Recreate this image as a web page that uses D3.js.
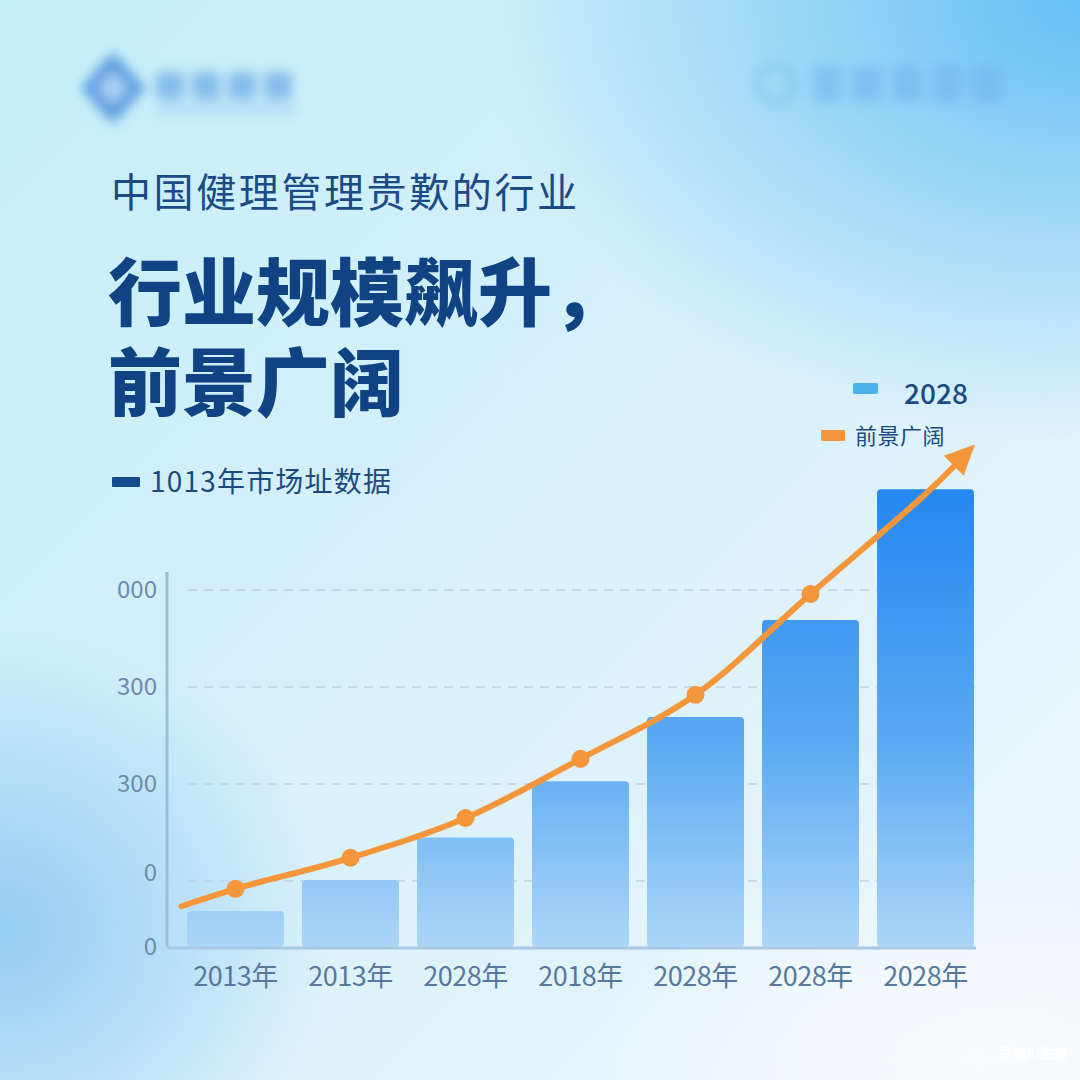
<!DOCTYPE html>
<html><head><meta charset="utf-8">
<script src="https://cdn.jsdelivr.net/npm/d3@7/dist/d3.min.js"></script>
<style>
html,body{margin:0;padding:0;background:#e4f4fb;}
svg{display:block;font-family:"Noto Sans CJK SC","Noto Sans",sans-serif;}
</style></head>
<body>
<svg id="c" width="1080" height="1080"></svg>
<script>
// ---- data ----
const categories = ["2013年","2013年","2028年","2018年","2028年","2028年","2028年"];
const barValues = [37, 69, 113, 171, 237, 337, 472];
const lineValues = [60, 92, 133, 194, 260, 364];          // marker points (first 6 years)
const lineTrendStart = 42;                                  // line start (left of first year)
const lineTrendPast = [467, 518];                           // through last year, arrow tip
const yTickValues = [0, 68, 168, 268, 368];
const yTickLabels = ["0", "0", "300", "300", "000"];
const titleSmall = "中国健理管理贵歎的行业";
const titleBig = ["行业规模飙升，", "前景广阔"];
const noteLabel = "1013年市场址数据";
const legendBar = "2028";
const legendLine = "前景广阔";
const watermark = "豆包AI生成";

const svg = d3.select("#c");
const defs = svg.append("defs");

// ---- background ----
const bg = defs.append("linearGradient").attr("id","bg").attr("x1",0).attr("y1",0).attr("x2",1).attr("y2",1);
bg.append("stop").attr("offset","0%").attr("stop-color","#c4eef8");
bg.append("stop").attr("offset","45%").attr("stop-color","#d6f0fa");
bg.append("stop").attr("offset","100%").attr("stop-color","#eef6fc");
svg.append("rect").attr("width",1080).attr("height",1080).attr("fill","url(#bg)");

function radial(id, color, op){
  const g = defs.append("radialGradient").attr("id",id);
  g.append("stop").attr("offset","0%").attr("stop-color",color).attr("stop-opacity",op);
  g.append("stop").attr("offset","100%").attr("stop-color",color).attr("stop-opacity",0);
}
radial("rTR","#5fbdf5",0.95);
radial("rBL","#8cc8f4",0.9);
radial("rBR","#ffffff",0.7);
svg.append("ellipse").attr("cx",1080).attr("cy",0).attr("rx",600).attr("ry",440).attr("fill","url(#rTR)");
svg.append("ellipse").attr("cx",0).attr("cy",930).attr("rx",330).attr("ry",300).attr("fill","url(#rBL)");
svg.append("ellipse").attr("cx",980).attr("cy",1060).attr("rx",400).attr("ry",200).attr("fill","url(#rBR)");

// blurred logos
const blur = defs.append("filter").attr("id","blur").attr("x","-50%").attr("y","-50%").attr("width","200%").attr("height","200%");
blur.append("feGaussianBlur").attr("stdDeviation",6);
const logo = svg.append("g").attr("filter","url(#blur)");
logo.append("path").attr("d","M113,52 L146,88 L113,124 L80,88 Z").attr("fill","#4a90dd").attr("opacity",0.85);
logo.append("path").attr("d","M113,72 L128,88 L113,104 L98,88 Z").attr("fill","#a9d2f3");
[0,1,2,3].forEach(i=>logo.append("rect").attr("x",156+i*36).attr("y",72).attr("width",28).attr("height",28).attr("fill","#6aa7e6").attr("opacity",0.7));
logo.append("rect").attr("x",156).attr("y",106).attr("width",140).attr("height",8).attr("fill","#8fc0ee").attr("opacity",0.5);
const logo2 = svg.append("g").attr("filter","url(#blur)").attr("opacity",0.55);
logo2.append("circle").attr("cx",776).attr("cy",84).attr("r",18).attr("fill","none").attr("stroke","#7dbcf0").attr("stroke-width",8);
[0,1,2,3,4].forEach(i=>logo2.append("rect").attr("x",812+i*40).attr("y",66).attr("width",30).attr("height",36).attr("fill","#6fb4ee"));

// ---- titles ----
svg.append("text").attr("x",111).attr("y",207).attr("font-size",40).attr("letter-spacing",2.6)
  .attr("fill","#1b4a86").text(titleSmall);
titleBig.forEach((t,i)=>{
  svg.append("text").attr("x",108).attr("y",320 + i*90).attr("font-size",74).attr("font-weight",900)
    .attr("font-family","'Liberation Sans','Noto Sans CJK SC',sans-serif")
    .attr("fill","#0f4384").text(t);
});

svg.append("rect").attr("x",112).attr("y",477).attr("width",28).attr("height",10).attr("rx",1).attr("fill","#134b8c");
svg.append("text").attr("x",150).attr("y",492).attr("font-size",28).attr("letter-spacing",1.2).attr("fill","#1c4a7e").text(noteLabel);

// legend
svg.append("rect").attr("x",853).attr("y",383).attr("width",25).attr("height",11).attr("rx",2).attr("fill","#4cb3ea");
svg.append("text").attr("x",904).attr("y",404).attr("font-size",28).attr("font-weight",500).attr("fill","#1a4a82").text(legendBar);
svg.append("rect").attr("x",821).attr("y",430).attr("width",24).attr("height",11).attr("rx",1).attr("fill","#f5963a");
svg.append("text").attr("x",855).attr("y",444).attr("font-size",22).attr("letter-spacing",0.5).attr("fill","#1a4a82").text(legendLine);

// ---- scales ----
const x = d3.scaleBand().domain(d3.range(categories.length)).range([187, 974]).paddingInner(0.157).paddingOuter(0);
const y = d3.scaleLinear().domain([0, 500]).range([947, 462]);
const bw = x.bandwidth();
const xc = d3.scaleLinear().domain([0, categories.length-1]).range([x(0)+bw/2, x(categories.length-1)+bw/2]);

// grid
svg.append("g").selectAll("line").data(yTickValues.slice(1)).join("line")
  .attr("x1",188).attr("x2",975).attr("y1",d=>y(d)).attr("y2",d=>y(d))
  .attr("stroke","#bed3e2").attr("stroke-width",1.5).attr("stroke-dasharray","9,7");

// y axis
const yAxis = d3.axisLeft(y).tickValues(yTickValues).tickFormat((d,i)=>yTickLabels[i]).tickSize(0).tickPadding(10);
const ya = svg.append("g").attr("transform","translate(157,0)").call(yAxis);
ya.select(".domain").remove();
ya.selectAll("text").attr("font-size",24).attr("fill","#6d8bab").attr("font-family","'Noto Sans CJK SC',sans-serif").attr("dx",10);
ya.selectAll(".tick").filter((d,i)=>i===1).attr("transform",d=>`translate(0,${y(d)-8})`);
svg.append("line").attr("x1",167).attr("x2",167).attr("y1",572).attr("y2",y(0)).attr("stroke","#9fbcd6").attr("stroke-width",3);

// bars
const bg2 = defs.append("linearGradient").attr("id","barG").attr("gradientUnits","userSpaceOnUse")
  .attr("x1",0).attr("y1",y(barValues[6])).attr("x2",0).attr("y2",y(0));
bg2.append("stop").attr("offset","0%").attr("stop-color","#2587f1");
bg2.append("stop").attr("offset","55%").attr("stop-color","#5aa9f2");
bg2.append("stop").attr("offset","100%").attr("stop-color","#acd6f8");
svg.append("g").selectAll("rect").data(barValues).join("rect")
  .attr("x",(d,i)=>x(i)).attr("width",bw).attr("y",d=>y(d)).attr("height",d=>y(0)-y(d))
  .attr("rx",4).attr("fill","url(#barG)");

// baseline
svg.append("line").attr("x1",167).attr("x2",976).attr("y1",y(0)+1).attr("y2",y(0)+1).attr("stroke","#a9c8e4").attr("stroke-width",3);

// x axis
const xAxis = d3.axisBottom(x).tickFormat(i=>categories[i]).tickSize(0).tickPadding(20);
const xa = svg.append("g").attr("transform",`translate(0,${y(0)})`).call(xAxis);
xa.select(".domain").remove();
xa.selectAll("text").attr("font-size",27).attr("fill","#58799d").attr("letter-spacing",-0.5)
  .attr("font-family","'Noto Sans CJK SC',sans-serif");

// line
const linePts = [[ -0.47, lineTrendStart ]]
  .concat(lineValues.map((v,i)=>[i, v]))
  .concat([[6, lineTrendPast[0]], [6.43, lineTrendPast[1]]]);
const lineGen = d3.line().x(d=>xc(d[0])).y(d=>y(d[1])).curve(d3.curveCatmullRom.alpha(0.5));
svg.append("path").attr("d",lineGen(linePts.slice(0,-1).concat([[6.36, lineTrendPast[1]-9]])))
  .attr("fill","none").attr("stroke","#f5963a").attr("stroke-width",6).attr("stroke-linecap","round");
svg.append("g").selectAll("circle").data(lineValues).join("circle")
  .attr("cx",(d,i)=>xc(i)).attr("cy",d=>y(d)).attr("r",9).attr("fill","#f5963a");

// arrow head
const p1 = linePts[linePts.length-2], p2 = linePts[linePts.length-1];
const ax = xc(p2[0]), ay = y(p2[1]);
const ang = Math.atan2(ay - y(p1[1]), ax - xc(p1[0]));
const L = 30, W = 14;
const bx = ax - L*Math.cos(ang), by = ay - L*Math.sin(ang);
svg.append("path").attr("d",`M${ax},${ay} L${bx + W*Math.sin(ang)},${by - W*Math.cos(ang)} L${bx - W*Math.sin(ang)},${by + W*Math.cos(ang)} Z`)
  .attr("fill","#f5963a");

// watermark
svg.append("text").attr("x",1068).attr("y",1058).attr("text-anchor","end").attr("font-size",14)
  .attr("font-weight",700).attr("fill","#ffffff").attr("opacity",0.9).text(watermark);
</script>
</body></html>
